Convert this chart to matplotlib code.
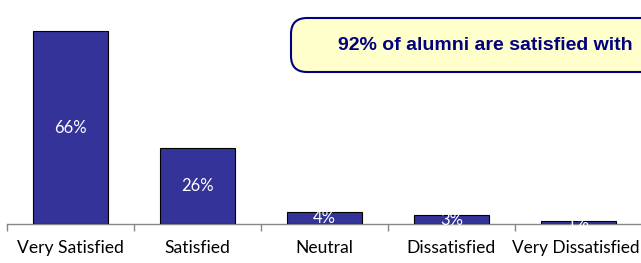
import matplotlib.pyplot as plt
from matplotlib.patches import FancyBboxPatch

# data
categories = ["Very Satisfied", "Satisfied", "Neutral", "Dissatisfied", "Very Dissatisfied"]
values = [66, 26, 4, 3, 1]
labels = ["66%", "26%", "4%", "3%", "1%"]
callout = "92% of alumni are satisfied with"

W, H = 641, 263
fig = plt.figure(figsize=(W / 100, H / 100), dpi=100)

# axes: x from 7 px to ~642 px, axis line at y=224 px
ax = fig.add_axes([7 / W, 39 / H, 635 / W, 224 / H])
ax.bar(range(len(values)), values, width=0.59, color="#333399",
       edgecolor="#000000", linewidth=0.8, zorder=3)
ax.set_xlim(-0.5, len(values) - 0.5)
ax.set_ylim(0, 224 / 2.92)

for i, v in enumerate(values):
    ax.text(i, v / 2, labels[i], color="white", ha="center", va="center",
            fontsize=12, family="Lato", zorder=4)

for s in ["top", "right", "left"]:
    ax.spines[s].set_visible(False)
ax.spines["bottom"].set_color("#868686")
ax.spines["bottom"].set_linewidth(1)
ax.set_yticks([])
ax.set_xticks([i - 0.5 for i in range(len(values) + 1)], minor=False)
ax.set_xticklabels([])
ax.tick_params(axis="x", direction="out", length=5, color="#868686", width=1)
for i, c in enumerate(categories[:-1]):
    ax.text(i, -24 / 2.92, c, ha="center", va="center", fontsize=12.6,
            family="Lato", color="black")
# last label touches the right edge in the original; keep it inside
fig.text(639 / W, 1 - 248 / H, categories[-1], ha="right", va="center",
         fontsize=12.4, family="Lato", color="black")

# callout box
box = FancyBboxPatch((291 / W, 1 - 72 / H), 380 / W, 54 / H,
                     boxstyle="round,pad=0,rounding_size=0.025",
                     transform=fig.transFigure, facecolor="#FFFFCC",
                     edgecolor="#000080", linewidth=1.5, mutation_aspect=W / H)
fig.patches.append(box)
fig.text(338 / W, 1 - 45 / H, callout, ha="left", va="center",
         fontsize=14, fontweight="bold", family="Liberation Sans", color="#000080")

fig.savefig("out.png", dpi=100)
